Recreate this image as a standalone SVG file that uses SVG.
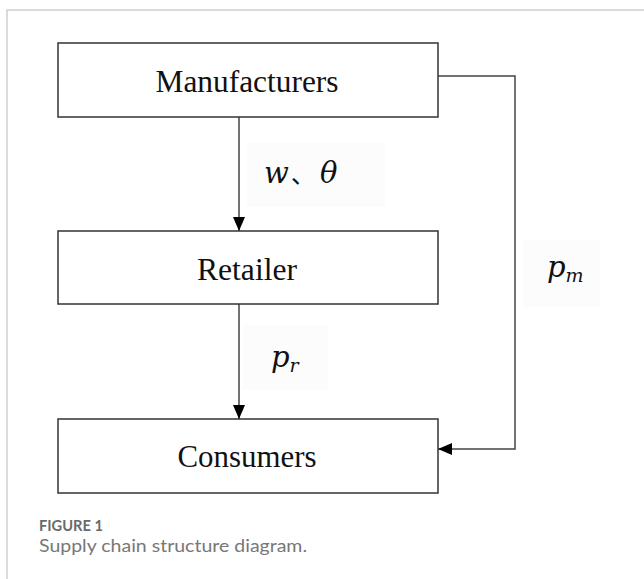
<svg xmlns="http://www.w3.org/2000/svg" width="644" height="579" viewBox="0 0 644 579">
<style>
.box{fill:#fff;stroke:#333;stroke-width:1.5}
.lbl{font-family:"Liberation Serif","Times New Roman",serif;font-size:31px;fill:#111;text-anchor:middle}
.conn{fill:none;stroke:#444;stroke-width:1.5}
.math{font-family:"DejaVu Serif","Liberation Serif",serif;font-style:italic;fill:#111}
.bg{fill:#fcfcfc}
.frame{stroke:#d0d0d0;stroke-width:1.5;fill:none}
.cap{font-family:Lato,"Liberation Sans",sans-serif}
</style>
<defs>
<marker id="ah" viewBox="0 0 14 12" refX="14" refY="6" markerWidth="14" markerHeight="12" markerUnits="userSpaceOnUse" orient="auto">
<path d="M0,0 L14,6 L0,12 Z" fill="#000"/>
</marker>
</defs>
<path class="frame" d="M644,10 H7 V579"/>
<g id="labels-bg">
<rect class="bg" x="247" y="143" width="138" height="64"/>
<rect class="bg" x="243" y="325" width="85" height="65"/>
<rect class="bg" x="523" y="240" width="77" height="67"/>
</g>
<g id="connectors">
<path class="conn" d="M239,117 V231" marker-end="url(#ah)"/>
<path class="conn" d="M239,304 V419" marker-end="url(#ah)"/>
<path class="conn" d="M438,76 H515 V449 H438" marker-end="url(#ah)"/>
<text class="math" x="264" y="183" font-size="29">w</text>
<text x="291" y="183" font-size="24" fill="#111" font-family="Noto Sans CJK SC, sans-serif">、</text>
<text class="math" x="320" y="183" font-size="29">θ</text>
<text class="math" x="271" y="367" font-size="29">p<tspan font-size="19" dy="5">r</tspan></text>
<text class="math" x="547" y="277" font-size="29">p<tspan font-size="19" dy="5">m</tspan></text>
</g>
<g id="manufacturers">
<rect class="box" x="58" y="43" width="380" height="74"/>
<text class="lbl" x="247" y="92" textLength="183" lengthAdjust="spacingAndGlyphs">Manufacturers</text>
</g>
<g id="retailer">
<rect class="box" x="58" y="231" width="380" height="73"/>
<text class="lbl" x="247" y="280" textLength="100" lengthAdjust="spacingAndGlyphs">Retailer</text>
</g>
<g id="consumers">
<rect class="box" x="58" y="419" width="380" height="74"/>
<text class="lbl" x="247" y="467" textLength="139" lengthAdjust="spacingAndGlyphs">Consumers</text>
</g>
<g id="caption">
<text class="cap" x="39" y="531" font-weight="bold" font-size="14.5" fill="#6a6a6a" textLength="64" lengthAdjust="spacingAndGlyphs">FIGURE 1</text>
<text class="cap" x="39" y="552" font-size="17.5" fill="#777" textLength="268" lengthAdjust="spacingAndGlyphs">Supply chain structure diagram.</text>
</g>
</svg>
